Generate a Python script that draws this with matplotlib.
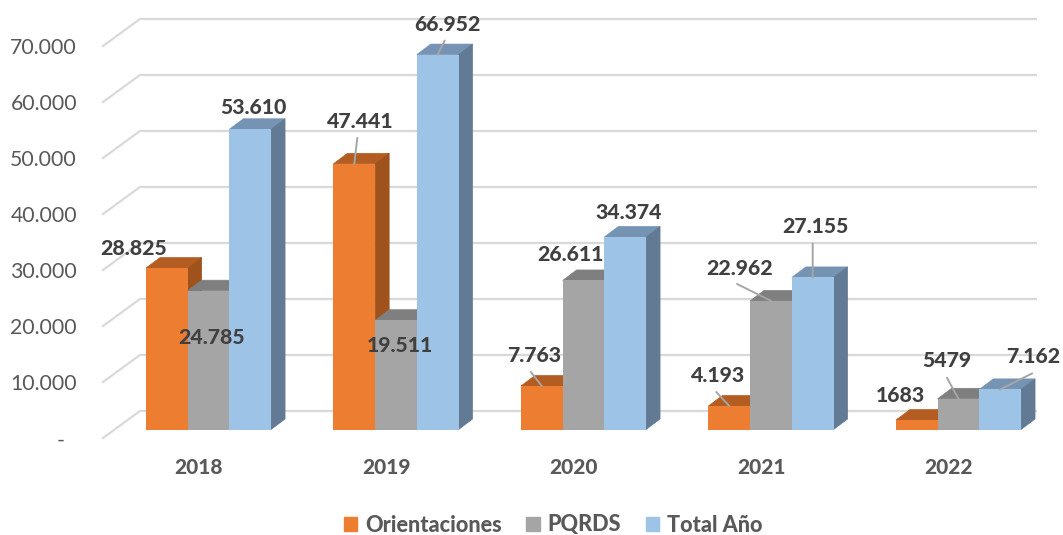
import matplotlib
matplotlib.use('Agg')
import matplotlib.pyplot as plt
from matplotlib.patches import Patch

plt.rcParams['font.family'] = ['Lato', 'DejaVu Sans']

years = ['2018', '2019', '2020', '2021', '2022']
orientaciones = [28825, 47441, 7763, 4193, 1683]
pqrds = [24785, 19511, 26611, 22962, 5479]
total = [53610, 66952, 34374, 27155, 7162]
orient_labels = ['28.825', '47.441', '7.763', '4.193', '1683']
pqrds_labels = ['24.785', '19.511', '26.611', '22.962', '5479']
total_labels = ['53.610', '66.952', '34.374', '27.155', '7.162']
tick_values = [0, 10000, 20000, 30000, 40000, 50000, 60000, 70000]
tick_labels = ['-', '10.000', '20.000', '30.000', '40.000', '50.000', '60.000', '70.000']

W, H = 1063, 535
# pixel layout of the picture
group_px = 187.5
first_px = 208.5
base_px = 429.5
px_per_unit = 56 / 10000
bar_w = 41.7 / group_px
depth_x = 14 / group_px
depth_y = 10.5 / px_per_unit


def xpx(p):
    return (p - first_px) / group_px


def ypx(p):
    return (base_px - p) / px_per_unit


fig = plt.figure(figsize=(W / 100, H / 100), dpi=100)
ax = fig.add_axes([0, 0, 1, 1])
ax.set_xlim(xpx(0), xpx(W))
ax.set_ylim(ypx(H), ypx(0))
ax.axis('off')

# floor/wall gridlines
grid_front = -8.5 / px_per_unit
grid_back = 18.5 / px_per_unit
for v, lab in zip(tick_values, tick_labels):
    ax.plot([xpx(103), xpx(140), xpx(1036)],
            [v + grid_front, v + grid_back, v + grid_back],
            color='#D9D9D9', lw=1.6, zorder=1, solid_joinstyle='miter')
    if v == 0:
        ax.text(xpx(65), v + grid_front - 3 / px_per_unit, lab, ha='right', va='center',
                fontsize=15.3, color='#595959')
    else:
        ax.text(xpx(77), v + grid_front - 2 / px_per_unit, lab, ha='right', va='center',
                fontsize=15.3, color='#595959')

series = [
    (orientaciones, orient_labels, '#ED7D31', '#B45D22', '#A0521D'),
    (pqrds, pqrds_labels, '#A5A5A5', '#7F7F7F', '#757575'),
    (total, total_labels, '#9DC3E6', '#7593B3', '#627A94'),
]

# label centre, relative to the top of the bar front, pixels
label_off = [
    [(-33, 20), (6, 42), (-8, 31), (-11, 31), (-16, 25)],
    [(3.5, -47), (4, -25), (-13.5, 25.5), (-31, 32), (-11.5, 38)],
    [(3, 22), (10, 30), (3, 25), (3, 51), (33, 33)],
]
# leader line ends, same reference
leaders = {
    (0, 1): (3, 26), (2, 1): (7, 14),
    (0, 2): (-11, 14), (0, 3): (-13, 14),
    (1, 3): (-34, 17), (2, 3): (0, 34),
    (1, 4): (-11.5, 21), (2, 4): (32, 16),
}

z = 3
for s, (vals, labs, front, top, side) in enumerate(series):
    xs = [i + (s - 1) * bar_w for i in range(len(years))]
    for x, v in zip(xs, vals):
        left = x - bar_w / 2
        right = x + bar_w / 2
        ax.fill([left, right, right + depth_x, left + depth_x],
                [v, v, v + depth_y, v + depth_y], color=top, lw=0.5, zorder=z)
        ax.fill([right, right + depth_x, right + depth_x, right],
                [0, depth_y, v + depth_y, v], color=side, lw=0.5, zorder=z)
        ax.bar(x, v, bar_w, color=front, zorder=z + 0.5)
    z += 1

for s, (vals, labs, front, top, side) in enumerate(series):
    for i, (v, lab) in enumerate(zip(vals, labs)):
        x = i + (s - 1) * bar_w
        if (s, i) in leaders:
            ax.annotate('', xy=(x, v), xytext=leaders[(s, i)], textcoords='offset pixels',
                        arrowprops=dict(arrowstyle='-', color='#A6A6A6', lw=1.4,
                                        shrinkA=0, shrinkB=0), zorder=10)
        ax.annotate(lab, xy=(x, v), xytext=label_off[s][i], textcoords='offset pixels',
                    ha='center', va='center', fontsize=15.3, fontweight=900,
                    color='#404040', zorder=11)

for i, y in enumerate(years):
    ax.text(i - 10 / group_px, ypx(467), y, ha='center', va='center', fontsize=15, fontweight=900,
            color='#595959')

handles = [Patch(color=c[2], label=n) for c, n in zip(series, ['Orientaciones', 'PQRDS', 'Total Año'])]
leg = ax.legend(handles=handles, ncol=3, frameon=False, loc='center',
                bbox_to_anchor=(553 / W, 1 - 525 / H), prop={'size': 15.6, 'weight': 900},
                handlelength=0.62, handleheight=0.62, handletextpad=0.35, columnspacing=1.15,
                labelcolor='#595959', borderpad=0, borderaxespad=0)

fig.savefig('out.png', dpi=100)
